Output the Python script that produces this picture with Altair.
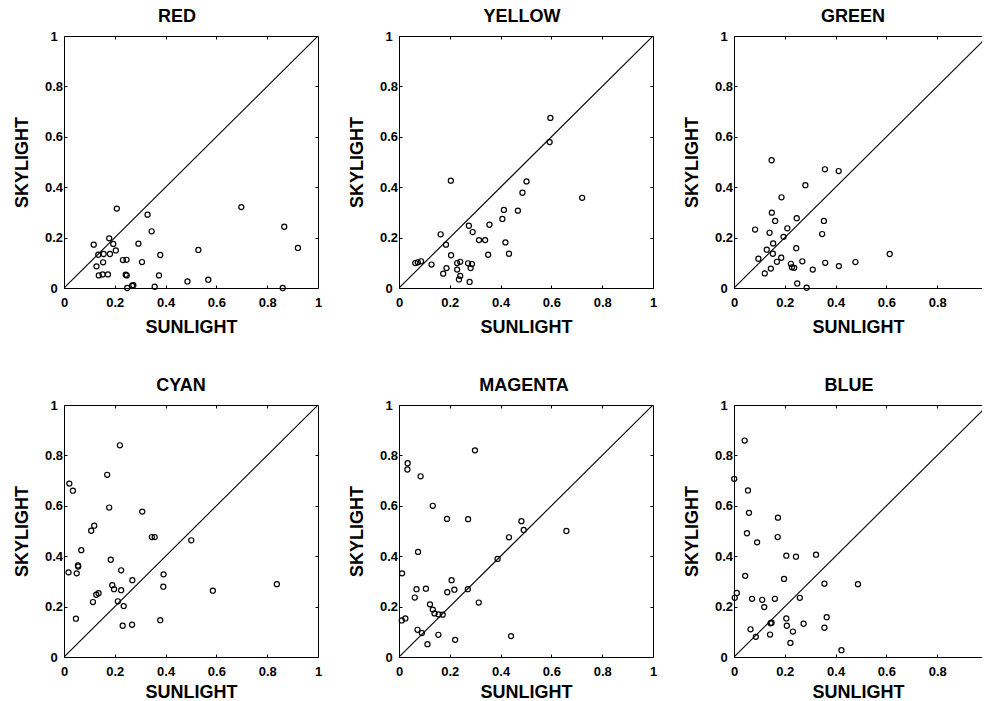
import altair as alt
import pandas as pd

# ---------------- data ----------------
red_sun = [0.208, 0.329, 0.345, 0.698, 0.867, 0.921, 0.117, 0.178, 0.194, 0.204, 0.293, 0.135,
           0.156, 0.181, 0.128, 0.154, 0.232, 0.246, 0.307, 0.379, 0.529, 0.137, 0.152, 0.173,
           0.243, 0.247, 0.273, 0.268, 0.249, 0.357, 0.374, 0.486, 0.568, 0.861]
red_sky = [0.315, 0.291, 0.225, 0.321, 0.243, 0.159, 0.172, 0.197, 0.175, 0.149, 0.176, 0.132,
           0.135, 0.135, 0.086, 0.102, 0.111, 0.112, 0.103, 0.131, 0.151, 0.050, 0.054, 0.054,
           0.053, 0.050, 0.011, 0.009, 0.000, 0.005, 0.050, 0.026, 0.033, 0.000]

yellow_sun = [0.596, 0.593, 0.502, 0.486, 0.721, 0.204, 0.413, 0.468, 0.407, 0.356, 0.275, 0.290,
              0.164, 0.315, 0.339, 0.185, 0.419, 0.433, 0.351, 0.205, 0.064, 0.074, 0.087, 0.128,
              0.229, 0.241, 0.272, 0.287, 0.282, 0.187, 0.174, 0.229, 0.241, 0.236, 0.278]
yellow_sky = [0.675, 0.579, 0.423, 0.378, 0.358, 0.426, 0.310, 0.307, 0.274, 0.251, 0.247, 0.222,
              0.213, 0.190, 0.190, 0.172, 0.181, 0.136, 0.132, 0.130, 0.099, 0.102, 0.106, 0.093,
              0.099, 0.104, 0.098, 0.095, 0.079, 0.079, 0.057, 0.073, 0.048, 0.034, 0.024]

green_sun = [0.148, 0.358, 0.412, 0.281, 0.187, 0.149, 0.162, 0.247, 0.354, 0.083, 0.210, 0.140,
             0.195, 0.347, 0.154, 0.129, 0.153, 0.245, 0.096, 0.186, 0.169, 0.224, 0.228, 0.237,
             0.269, 0.359, 0.413, 0.478, 0.613, 0.145, 0.121, 0.310, 0.249, 0.286]
green_sky = [0.507, 0.471, 0.464, 0.408, 0.360, 0.299, 0.266, 0.277, 0.266, 0.232, 0.237, 0.219,
             0.203, 0.214, 0.177, 0.152, 0.136, 0.158, 0.116, 0.120, 0.104, 0.096, 0.082, 0.080,
             0.106, 0.100, 0.087, 0.103, 0.135, 0.077, 0.058, 0.073, 0.018, 0.001]

cyan_sun = [0.220, 0.170, 0.021, 0.035, 0.178, 0.308, 0.119, 0.107, 0.346, 0.357, 0.501, 0.068,
            0.184, 0.055, 0.056, 0.018, 0.050, 0.225, 0.269, 0.392, 0.391, 0.190, 0.197, 0.225,
            0.586, 0.838, 0.127, 0.136, 0.114, 0.212, 0.235, 0.047, 0.379, 0.231, 0.268]
cyan_sky = [0.840, 0.723, 0.688, 0.660, 0.593, 0.577, 0.521, 0.501, 0.476, 0.476, 0.463, 0.424,
            0.386, 0.363, 0.359, 0.336, 0.332, 0.344, 0.305, 0.328, 0.279, 0.285, 0.269, 0.265,
            0.263, 0.289, 0.247, 0.253, 0.218, 0.221, 0.202, 0.152, 0.146, 0.124, 0.128]

magenta_sun = [0.299, 0.034, 0.033, 0.085, 0.133, 0.189, 0.272, 0.482, 0.491, 0.659, 0.433, 0.075,
               0.388, 0.012, 0.207, 0.069, 0.106, 0.218, 0.271, 0.190, 0.062, 0.314, 0.122, 0.133,
               0.140, 0.156, 0.172, 0.025, 0.011, 0.073, 0.090, 0.155, 0.441, 0.112, 0.221]
magenta_sky = [0.820, 0.769, 0.744, 0.717, 0.600, 0.548, 0.547, 0.539, 0.504, 0.500, 0.475, 0.417,
               0.389, 0.332, 0.305, 0.269, 0.271, 0.267, 0.269, 0.257, 0.236, 0.216, 0.209, 0.188,
               0.173, 0.169, 0.168, 0.153, 0.145, 0.108, 0.095, 0.088, 0.083, 0.051, 0.068]

blue_sun = [0.042, 0.001, 0.055, 0.059, 0.173, 0.051, 0.172, 0.091, 0.206, 0.244, 0.323, 0.044,
            0.197, 0.356, 0.488, 0.011, 0.003, 0.071, 0.111, 0.161, 0.259, 0.119, 0.206, 0.365,
            0.144, 0.148, 0.208, 0.274, 0.356, 0.065, 0.232, 0.142, 0.086, 0.222, 0.423]
blue_sky = [0.859, 0.707, 0.661, 0.572, 0.553, 0.491, 0.476, 0.455, 0.402, 0.398, 0.406, 0.322,
            0.310, 0.291, 0.289, 0.254, 0.235, 0.231, 0.227, 0.231, 0.235, 0.198, 0.153, 0.158,
            0.134, 0.136, 0.124, 0.132, 0.116, 0.110, 0.101, 0.089, 0.080, 0.056, 0.027]

panel_titles = ["RED", "YELLOW", "GREEN", "CYAN", "MAGENTA", "BLUE"]
tick_values = [0, 0.2, 0.4, 0.6, 0.8, 1]
inner_ticks = [0.2, 0.4, 0.6, 0.8]
diag_ends = [0, 1]

# ---------------- styling ----------------
FONT = "Liberation Sans"
W = 254
H = 252
W_CUT = 248  # right column is cut off by the picture edge
TICK = alt.ExprRef(expr="-3")


def panel(title, sun, sky, dx, width, last_col, x_title_pad):
    xmax = width / W
    df = pd.DataFrame({"sun": sun, "sky": sky})
    dg = pd.DataFrame({"a": [diag_ends[0]], "b": [diag_ends[1]]})
    xs = alt.Scale(domain=[0, xmax], nice=False, zero=False)
    ys = alt.Scale(domain=[0, 1], nice=False, zero=False)
    xvals = [v for v in tick_values if v <= xmax + 1e-9]

    x_bottom = alt.Axis(title="SUNLIGHT", orient="bottom", values=xvals, format="~g",
                        tickSize=TICK, labelPadding=11, labelFlush=False, labelOverlap=False,
                        titlePadding=x_title_pad, grid=False, domain=True, minExtent=0)
    y_left = alt.Axis(title="SKYLIGHT", orient="left", values=tick_values, format="~g",
                      tickSize=TICK, labelPadding=13.5, labelAlign="center",
                      labelBaseline="middle", labelFlush=False, labelOverlap=False,
                      titlePadding=13, grid=False, domain=True, minExtent=0)
    x_top = alt.Axis(title=None, orient="top", values=[v for v in inner_ticks if v <= xmax],
                     labels=False, tickSize=TICK, grid=False, domain=True,
                     minExtent=0, maxExtent=0)
    y_right = alt.Axis(title=None, orient="right", values=inner_ticks, labels=False,
                       tickSize=TICK, grid=False, domain=not last_col, ticks=not last_col,
                       minExtent=0, maxExtent=0)

    pts = alt.Chart(df).mark_point(shape="circle", filled=False, size=26, color="black",
                                   strokeWidth=1.2, opacity=1).encode(
        x=alt.X("sun:Q", scale=xs, axis=x_bottom),
        y=alt.Y("sky:Q", scale=ys, axis=y_left),
    )
    diag = alt.Chart(dg).mark_rule(color="black", strokeWidth=1.1, clip=True).encode(
        x=alt.X("a:Q", scale=xs, axis=x_top),
        y=alt.Y("a:Q", scale=ys, axis=y_right),
        x2="b:Q",
        y2="b:Q",
    )
    return alt.layer(pts, diag).resolve_axis(x="independent", y="independent").properties(
        width=width, height=H,
        title=alt.Title(title, fontSize=18, font=FONT, fontWeight="bold", color="black",
                        anchor="middle", frame="group", dx=dx, offset=-10, baseline="alphabetic"),
    )


series = [(red_sun, red_sky), (yellow_sun, yellow_sky), (green_sun, green_sky),
          (cyan_sun, cyan_sky), (magenta_sun, magenta_sky), (blue_sun, blue_sky)]
dxs = [-14, -4, -5, -10, -2, -9]

panels = []
for i, (t, (s, k)) in enumerate(zip(panel_titles, series)):
    last = (i % 3 == 2)
    pad = 9 if i < 3 else 5
    panels.append(panel(t, s, k, dxs[i], W_CUT if last else W, last, pad))

chart = alt.concat(*panels, columns=3, spacing=alt.RowColnumber(row=117, column=81),
                   bounds="flush").properties(
    padding={"left": 13, "top": 8, "right": 0, "bottom": 0},
    background="white",
).configure_view(stroke=None).configure_axis(
    labelFont=FONT, labelFontSize=13, labelFontWeight="bold", labelColor="black",
    titleFont=FONT, titleFontSize=18, titleFontWeight="bold", titleColor="black",
    domainColor="black", domainWidth=1, tickColor="black", tickWidth=1,
)

chart.save("out.html", embed_options={"renderer": "svg", "actions": False})
